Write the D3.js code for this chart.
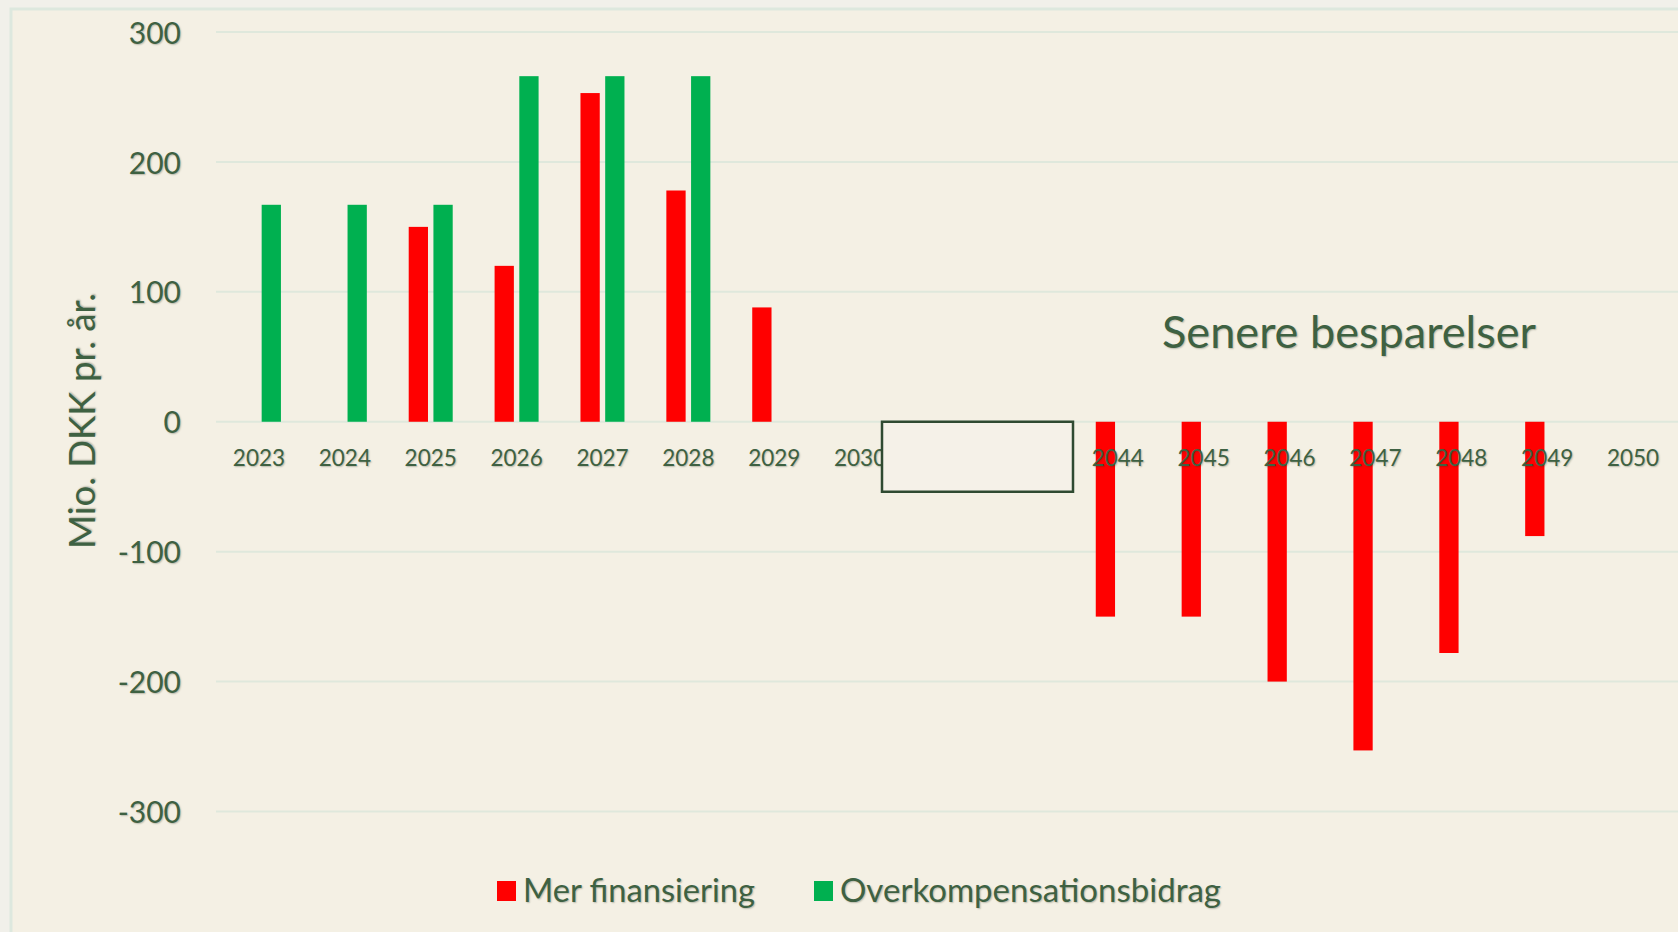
<!DOCTYPE html>
<html>
<head>
<meta charset="utf-8">
<script src="https://cdn.jsdelivr.net/npm/d3@7"></script>
<style>
  html, body { margin: 0; padding: 0; background: #f1f0ea; }
  svg text { font-family: Lato, "Open Sans", sans-serif; fill: #3e6142; text-shadow: 1px 1px 1.5px rgba(40, 50, 30, 0.28); }
</style>
</head>
<body>
<div id="chart"></div>
<script>
// categories: two hidden years sit under the box between 2030 and 2044
const categories = ["2023", "2024", "2025", "2026", "2027", "2028", "2029", "2030",
    "skjult1", "skjult2", "2044", "2045", "2046", "2047", "2048", "2049", "2050"];
const merFinansiering = [null, null, 150, 120, 253, 178, 88, null,
    null, null, -150, -150, -200, -253, -178, -88, null];
const overkompensation = [167, 167, 167, 266, 266, 266, null, null,
    null, null, null, null, null, null, null, null, null];
const yTicks = [-300, -200, -100, 0, 100, 200, 300];
const seriesNames = ["Mer finansiering", "Overkompensationsbidrag"];
const seriesColors = ["#ff0000", "#00b050"];

document.addEventListener('DOMContentLoaded', () => {
    const W = 1678, H = 932;
    const svg = d3.select("#chart").append("svg")
        .attr("width", W)
        .attr("height", H);

    // chart frame
    svg.append("rect")
        .attr("x", 11).attr("y", 9)
        .attr("width", W + 20).attr("height", H + 20)
        .attr("fill", "#f4f0e4")
        .attr("stroke", "#dde8de")
        .attr("stroke-width", 3);

    const x = d3.scaleBand().domain(categories).range([216, 1676]).padding(0);
    const bw = x.bandwidth();
    const x1 = d3.scaleBand().domain([0, 1])
        .range([bw / 2 - 22, bw / 2 + 22]).paddingInner(0.22);
    const y = d3.scaleLinear().domain([-300, 300]).range([811.5, 32]);

    // gridlines
    svg.append("g").selectAll("line")
        .data(yTicks)
        .enter()
        .append("line")
        .attr("x1", 216).attr("x2", W)
        .attr("y1", d => y(d)).attr("y2", d => y(d))
        .attr("stroke", "#dfe8dc")
        .attr("stroke-width", 2);

    // y tick labels
    svg.append("g").selectAll("text")
        .data(yTicks)
        .enter()
        .append("text")
        .attr("x", 181)
        .attr("y", d => y(d) + 4)
        .attr("text-anchor", "end")
        .attr("dominant-baseline", "middle")
        .attr("font-size", 30)
        .text(d => String(d));

    // bars
    const series = [merFinansiering, overkompensation];
    series.forEach((vals, s) => {
        const data = categories.map((c, i) => ({ c, v: vals[i] })).filter(d => d.v !== null);
        svg.append("g").selectAll("rect")
            .data(data)
            .enter()
            .append("rect")
            .attr("x", d => x(d.c) + x1(s))
            .attr("width", x1.bandwidth())
            .attr("y", d => y(Math.max(0, d.v)))
            .attr("height", d => Math.abs(y(d.v) - y(0)))
            .attr("fill", seriesColors[s]);
    });

    // x axis labels
    const xAxis = d3.axisBottom(x)
        .tickSize(0)
        .tickFormat(d => d.startsWith("skjult") ? "" : d);
    const gx = svg.append("g")
        .attr("transform", `translate(0, ${y(0)})`)
        .call(xAxis);
    gx.select(".domain").remove();
    gx.selectAll("text")
        .attr("y", 0)
        .attr("dy", null)
        .attr("transform", "translate(0, 44)")
        .attr("font-size", 22.5)
        .style("font-family", "Lato, sans-serif")
        .style("fill", "#3e6142");

    // box covering the cut years
    svg.append("rect")
        .attr("x", 882).attr("y", y(0))
        .attr("width", 191).attr("height", 70)
        .attr("fill", "#f5f1e8")
        .attr("stroke", "#2f4a31")
        .attr("stroke-width", 2.5);

    // annotation
    svg.append("text")
        .attr("x", 1162).attr("y", 348)
        .attr("font-size", 44)
        .attr("textLength", 374)
        .attr("lengthAdjust", "spacingAndGlyphs")
        .text("Senere besparelser");

    // y axis title
    svg.append("text")
        .attr("transform", "translate(95, 421) rotate(-90)")
        .attr("text-anchor", "middle")
        .attr("font-size", 36)
        .attr("textLength", 256)
        .attr("lengthAdjust", "spacingAndGlyphs")
        .text("Mio. DKK pr. år.");

    // legend
    const legendX = [497, 814];
    const legendLen = [232, 381];
    const legend = svg.append("g").selectAll("g")
        .data(seriesNames)
        .enter()
        .append("g")
        .attr("transform", (d, i) => `translate(${legendX[i]}, 881)`);
    legend.append("rect")
        .attr("width", 19).attr("height", 20)
        .attr("fill", (d, i) => seriesColors[i]);
    legend.append("text")
        .attr("x", 26).attr("y", 21)
        .attr("font-size", 32)
        .attr("textLength", (d, i) => legendLen[i])
        .attr("lengthAdjust", "spacingAndGlyphs")
        .text(d => d);
});
</script>
</body>
</html>
